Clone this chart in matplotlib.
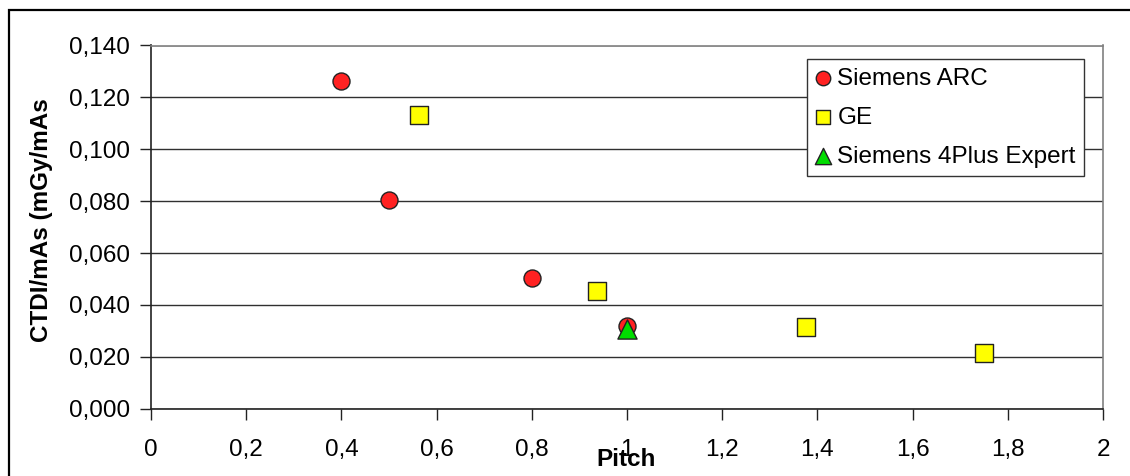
import matplotlib.pyplot as plt
from matplotlib.patches import Rectangle
from matplotlib.ticker import FuncFormatter

plt.rcParams['font.family'] = ['Liberation Sans', 'DejaVu Sans']

# data
arc_pitch = [0.4, 0.5, 0.8, 1.0]
arc_ctdi = [0.1265, 0.0803, 0.0503, 0.0317]

ge_pitch = [0.5625, 0.9375, 1.375, 1.75]
ge_ctdi = [0.1134, 0.0453, 0.0314, 0.0214]

plus_pitch = [1.0]
plus_ctdi = [0.0306]

xticks = [0, 0.2, 0.4, 0.6, 0.8, 1.0, 1.2, 1.4, 1.6, 1.8, 2.0]
yticks = [0.0, 0.02, 0.04, 0.06, 0.08, 0.10, 0.12, 0.14]

fig = plt.figure(figsize=(11.3, 4.76), dpi=100)
ax = fig.add_axes([151 / 1130, 1 - 408.7 / 476, 952 / 1130, 363.2 / 476])

# outer chart frame (right and bottom edges fall outside the picture)
top = 1 - 10 / 476
fig.patches.append(Rectangle((9 / 1130, -0.2), 1.2, top + 0.2,
                             transform=fig.transFigure, fill=False,
                             edgecolor='black', lw=1.6, zorder=0))

for y in yticks:
    ax.axhline(y, color='#303030', lw=1.0, zorder=1)

ax.scatter(arc_pitch, arc_ctdi, s=150, marker='o', color='#ff2222',
           edgecolor='#222222', lw=1.0, zorder=3, label='Siemens ARC')
ax.scatter(ge_pitch, ge_ctdi, s=150, marker='s', color='#ffff00',
           edgecolor='#222222', lw=1.0, zorder=3, label='GE')
ax.scatter(plus_pitch, plus_ctdi, s=190, marker='^', color='#00dd00',
           edgecolor='#222222', lw=1.0, zorder=4, label='Siemens 4Plus Expert')

ax.set_xlim(0, 2)
ax.set_ylim(0, 0.14)
ax.set_xticks(xticks)
ax.set_yticks(yticks)
ax.xaxis.set_major_formatter(FuncFormatter(lambda v, p: ('%g' % round(v, 1)).replace('.', ',')))
ax.yaxis.set_major_formatter(FuncFormatter(lambda v, p: ('%.3f' % v).replace('.', ',')))
ax.tick_params(axis='both', labelsize=17.5, length=8, width=1.0, direction='out', color='#222222')
ax.tick_params(axis='x', pad=14)
ax.tick_params(axis='y', pad=7)

for side in ['top', 'right']:
    ax.spines[side].set_color('#808080')
    ax.spines[side].set_linewidth(1.2)
for side in ['left', 'bottom']:
    ax.spines[side].set_color('#222222')
    ax.spines[side].set_linewidth(1.2)

fig.text(626 / 1130, 1 - 460 / 476, 'Pitch', fontsize=17.5, fontweight='bold',
         ha='center', va='center')
fig.text(42 / 1130, 1 - 220 / 476, 'CTDI/mAs (mGy/mAs', fontsize=17.5, fontweight='bold',
         rotation=90, ha='center', va='center')

leg = ax.legend(loc='upper left', bbox_to_anchor=(807 / 1130, 1 - 59 / 476),
                bbox_transform=fig.transFigure, fontsize=17.5, frameon=True,
                fancybox=False, edgecolor='#333333', framealpha=1,
                handlelength=0.6, handletextpad=0.3, labelspacing=0.7,
                borderpad=0.35, borderaxespad=0, markerscale=0.85)
leg.get_frame().set_linewidth(1.0)

fig.savefig('out.png', dpi=100)
